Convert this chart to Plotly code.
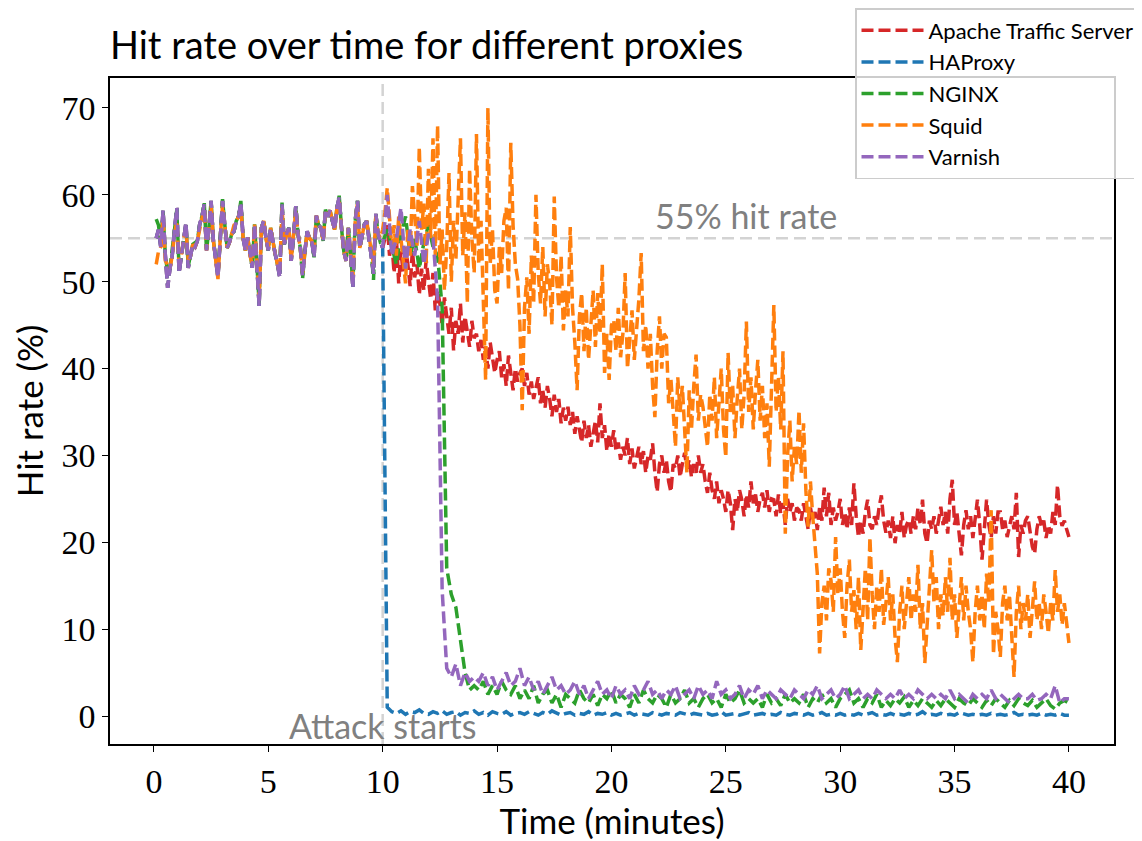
import numpy as np
import plotly.graph_objects as go

# ---------------- data ----------------
# before the attack: 0.1 .. 10.0 min (0.1 min steps)
pre_times = np.round(np.arange(1, 101) * 0.1, 1)
# after the attack: fine grid (0.1 min) for the noisy series, 0.2 min for the others
fine_times = np.round(10 + np.arange(1, 301) * 0.1, 1)
coarse_times = np.round(10 + np.arange(1, 151) * 0.2, 1)

# before the attack the proxies behave almost the same (lines overlap)
pre_attack = [
    55, 56, 54, 58.2, 53, 49.3, 51.5, 53, 56, 58.5,
    51, 53, 55, 56.8, 51.6, 53, 54.3, 54, 54.7, 56.6,
    57.5, 58.9, 53.6, 56, 59.3, 54.7, 52.5, 50.5, 55, 59.3,
    56.5, 53.9, 54.5, 55.5, 55.8, 57, 57.5, 59.1, 55, 53.6,
    55.1, 53, 51.6, 56.6, 52, 47.2, 56.2, 57, 55, 53.6,
    56.2, 54.5, 53.2, 52, 50.5, 58.9, 54.3, 55.5, 56.2, 52.4,
    55, 58.7, 55.5, 53.9, 50.7, 53.5, 55.8, 55, 54.7, 52.8,
    57.6, 56.5, 56.2, 54.7, 58.3, 57.5, 58.2, 57, 56, 58.5,
    59.7, 56.2, 53.5, 52.4, 56.2, 53, 49.3, 57, 59.3, 53.9,
    55.5, 56.6, 57, 55, 53.6, 50.9, 57.8, 55.5, 54.5, 53.9,
]
# NGINX before the attack (starts a little higher)
nginx_pre = [
    57.2, 56.5, 54.5, 58, 53, 51, 51.5, 53.5, 56, 58.3,
    51.5, 53, 55, 56.5, 51.8, 53, 54.3, 54.5, 54.7, 56.6,
    57.5, 59.1, 53.6, 56, 59.3, 54.7, 52.5, 50.8, 55, 59.5,
    56.5, 53.9, 54.5, 55.5, 55.8, 57, 57.5, 59.3, 55, 53.6,
    55.1, 53.3, 51.6, 56.6, 52, 47.5, 56.2, 57, 55, 53.6,
    56.2, 54.5, 53.2, 52, 50.8, 59.1, 54.3, 55.5, 56.2, 52.4,
    55, 58.7, 55.5, 53.9, 50.4, 53.5, 55.8, 55, 54.7, 52.8,
    57.6, 56.5, 56.2, 54.7, 58.3, 57.5, 58.2, 57, 56, 58.5,
    59.9, 56.2, 53.5, 52.4, 56.2, 53, 49.8, 57, 59.3, 53.9,
    55.5, 56.6, 57, 55, 53.6, 50.2, 57.8, 55.5, 54.5, 54.5,
]
# Squid before the attack (starts lower, shallower dips)
squid_pre = [
    52, 53.5, 54, 57.5, 52.4, 52, 51.5, 53, 55.5, 57,
    52, 53, 55, 56, 52.5, 53, 54.3, 54, 54.7, 56,
    57.5, 58.5, 53.6, 56, 58.8, 54.7, 52.5, 50.3, 55, 58.8,
    56.5, 53.9, 54.5, 55.5, 56.5, 57, 57.5, 58.5, 55, 53.6,
    55.1, 53, 52, 56.6, 52, 48, 56.2, 57, 55, 53.6,
    56.2, 54.5, 53.2, 52, 51, 58.5, 54.3, 55.5, 56.2, 52.4,
    55, 58.2, 55.5, 53.9, 51, 53.5, 55.8, 55, 54.7, 53.5,
    57.6, 56.5, 56.2, 54.7, 58, 57.5, 58.2, 57, 56, 58.5,
    59.2, 56.2, 53.5, 52.4, 56.2, 53, 50.5, 57, 59, 53.9,
    55.5, 56.6, 57, 55, 53.6, 52, 57.5, 55.5, 55, 56,
]

# Apache Traffic Server, 10.1 .. 40.0 (0.1 min)
ats_post = [
    55, 56.5, 53, 54.5, 51, 55, 49.8, 53.5, 51, 54, 52, 49.5, 53.6, 50.5, 52, 48.5, 51.5, 49, 52.5, 50,
    48, 51, 46.7, 49, 47.5, 45, 48.2, 46, 44, 47, 42.1, 45.5, 44, 47.5, 43, 46, 44.5, 42.5, 45.5, 43.5,
    44, 42, 43.3, 41, 42.5, 40, 43, 41.5, 39.5, 41, 42, 39, 40.5, 38, 41.5, 39.5, 37.5, 40, 38.5, 39.5,
    40, 38, 39.5, 37, 38.5, 36.5, 38, 39, 36, 37.5, 35.5, 38, 36.5, 34.5, 37, 35, 36.5, 33.7, 35.5, 34,
    35.6, 33.5, 35, 32.5, 34.5, 33, 31.5, 34, 32, 33.5, 31, 32.5, 34, 31.5, 36, 32, 33.5, 30.5, 32.5, 31,
    32.9, 30.5, 31.5, 29.5, 31, 30, 32, 29, 30.8, 28.5, 30, 31, 29, 30.5, 28, 30, 29.5, 31.4, 28, 25.8,
    29, 30, 28, 29.5, 27, 25.8, 29, 28.5, 30, 27.5, 29, 30.3, 28.5, 29.5, 27.5, 29, 28, 30, 28, 29,
    27, 25.7, 28, 26, 25, 27, 24.5, 26, 25, 23.5, 26, 24.5, 21.4, 25, 23.5, 26, 24.9, 23, 25.5, 24,
    27, 24.5, 25.5, 23.5, 25, 25.7, 24, 26, 23.5, 25, 24.9, 23, 25.5, 23.3, 24.5, 22, 25, 23.5, 24.5, 22.5,
    24, 23.7, 22.5, 24.5, 23, 21.5, 24, 22.5, 23.5, 21.4, 24, 22.5, 26.3, 23, 25.7, 22, 24, 22.5, 23.5, 25,
    22, 23.5, 21.5, 24, 22, 26.8, 23, 20.6, 22.5, 21, 23.5, 24.9, 22, 21.5, 23, 22, 24, 25.4, 22.5, 21.1,
    22.5, 20.5, 23, 19.9, 22, 21, 23.5, 20.5, 22, 22.6, 21, 23, 21.5, 24, 22, 24.9, 21, 19.9, 22.5, 21.5,
    23, 21, 22.5, 24.1, 22, 23.5, 21, 25, 27.2, 22, 23.5, 21, 18.5, 22, 23.7, 21.5, 23, 20.5, 22.5, 24.9,
    22, 18, 21.5, 24.9, 22, 20.5, 23, 21, 23.5, 23.5, 21.5, 22.5, 20.6, 22, 23, 21.5, 25.7, 18.3, 22, 21,
    22.5, 23, 21, 19.5, 18.7, 21.5, 23, 21.9, 22.5, 20.5, 22, 21, 23.5, 22, 26.6, 23, 21.9, 22.5, 21.5, 20.6,
]

# HAProxy, 10.2 .. 40.0 (0.2 min)
haproxy_post = [
    1.0, 0.5, 0.3, 0.6, 0.2, 0.5, 0.4, 0.7, 0.3, 0.2,
    0.5, 0.3, 0.6, 0.2, 0.4, 0.5, 0.1, 0.4, 0.3, 0.6,
    0.2, 0.4, 0.1, 0.5, 0.3, 0.2, 0.5, 0.1, 0.3, 0.4,
    0.2, 0.5, 0.3, 0.1, 0.4, 0.2, 0.6, 0.3, 0.1, 0.3,
    0.4, 0.1, 0.3, 0.2, 0.5, 0.1, 0.3, 0.2, 0.4, 0.1,
    0.3, 0.1, 0.2, 0.4, 0.1, 0.3, 0.2, 0.1, 0.4, 0.2,
    0.1, 0.3, 0.2, 0.1, 0.4, 0.2, 0.1, 0.3, 0.2, 0.1,
    0.3, 0.1, 0.2, 0.5, 0.1, 0.2, 0.3, 0.1, 0.2, 0.4,
    0.1, 0.2, 0.3, 0.1, 0.2, 0.1, 0.4, 0.2, 0.1, 0.3,
    0.2, 0.1, 0.3, 0.1, 0.2, 0.4, 0.1, 0.2, 0.1, 0.3,
    0.1, 0.2, 0.1, 0.3, 0.1, 0.2, 0.4, 0.1, 0.2, 0.1,
    0.3, 0.1, 0.2, 0.1, 0.3, 0.1, 0.2, 0.5, 0.1, 0.2,
    0.1, 0.3, 0.1, 0.2, 0.1, 0.4, 0.2, 0.1, 0.2, 0.1,
    0.2, 0.1, 0.3, 0.1, 0.2, 0.1, 0.2, 0.4, 0.1, 0.2,
    0.1, 0.2, 0.1, 0.3, 0.1, 0.2, 0.1, 0.3, 0.1, 0.1,
]

# NGINX, 10.2 .. 40.0 (0.2 min)
nginx_post = [
    56, 54, 52, 55.5, 57.5, 53, 55, 51.5, 54.5, 56.5,
    54, 53, 47, 17, 14, 12.5, 9, 5, 3, 3.5,
    3, 4, 2.5, 3.5, 2.5, 4, 3, 2.5, 3.5, 2,
    3, 2, 3.5, 1.5, 2.5, 3, 1.5, 2.5, 1, 2.5,
    2, 1.5, 3, 2, 1.5, 2.5, 1.2, 2.5, 2, 3,
    1.5, 2.5, 2, 1, 2.5, 1.5, 3, 2, 1.5, 2.5,
    2, 1, 2.5, 1.5, 2, 3, 1.5, 2, 1, 2,
    2.5, 1.5, 2, 1, 2.5, 1.5, 2, 3, 1.5, 2,
    1.5, 2, 1, 2.5, 1.5, 2, 1.2, 2.5, 1.5, 2,
    1.5, 2.5, 1, 2, 1.5, 2.5, 1.5, 2, 1, 2,
    2.5, 3, 1.5, 2, 1, 2, 1.5, 2.5, 1, 1.8,
    1.2, 2, 1.5, 2.2, 1, 1.8, 1.2, 2, 1.5, 1,
    1.8, 1.2, 2, 1.5, 1, 2, 1.5, 1.2, 2, 1.5,
    1, 1.8, 1.2, 2, 1.5, 1, 1.8, 1.2, 2, 1.5,
    1.2, 1.8, 1, 1.5, 2, 1.2, 0.8, 1.5, 1.8, 1.5,
]

# Squid, 10.1 .. 40.0 (0.1 min)
squid_post = [
    58, 60.8, 57, 54, 56.5, 53, 57.5, 55, 52.5, 49.8, 56, 53, 61, 57, 54, 65.5, 56, 59, 52, 63,
    55, 66.5, 53, 68, 52, 56, 49, 54, 62.5, 50, 57, 52.5, 59, 66.5, 53, 58, 47.5, 63, 55, 51,
    67, 52, 57, 47, 38.7, 70, 52, 56, 49, 47.5, 54, 51, 57, 58.5, 49, 66, 56.5, 52, 50.3, 45,
    35.2, 47, 50.5, 44, 53, 47.5, 60, 51, 47.5, 54, 46, 52, 49.8, 45, 59.8, 50.5, 47, 53, 44.4, 49,
    46, 56.3, 47, 43, 37.5, 46, 48.7, 42, 47, 41, 45, 49, 42.5, 48.7, 44, 52, 39.5, 44, 38.7, 45,
    45.6, 42, 47, 41.3, 44, 51, 40, 43, 46.7, 41, 44.5, 48, 53.3, 42, 45, 40, 44, 38, 34.4, 42,
    46, 40, 44, 43.6, 36, 38.8, 35, 31, 39, 35, 38, 33, 28, 37.5, 33, 38, 41.6, 34, 37, 35.6,
    33, 31, 37, 34, 39, 32, 36, 40, 33, 29.8, 41.8, 35, 38, 32, 36.5, 40, 33, 37, 45.4, 35,
    39, 33, 37.5, 41, 34, 38, 32, 36, 28.7, 38, 47.3, 35, 39, 33, 42, 21, 30, 34, 27, 31,
    29, 35.2, 28, 33.7, 26, 21.8, 27, 23, 19, 16.4, 7.2, 13, 15, 11, 17, 15.6, 12, 20.6, 14, 17,
    12, 9, 15, 18, 12, 14.5, 10, 16, 7.6, 13, 17, 11, 20.6, 14, 10, 15, 12, 17, 10.5, 13,
    16, 11, 14, 9, 6.2, 12, 15, 10, 13.5, 16, 11, 14, 12, 17.4, 10, 13, 6.1, 11, 15, 19.1,
    13, 16, 10, 14, 11.5, 16, 12, 18.2, 11, 14, 9, 13, 16, 11, 15, 12, 10, 6.2, 12, 15,
    11, 14, 10, 16.4, 13, 23.7, 7.1, 12, 10, 6.8, 13, 15, 11, 14, 9, 4.5, 12, 15, 10, 13,
    11, 14, 9, 12, 15.5, 11, 13, 10, 14, 12, 9.5, 13, 11, 16.8, 12, 14, 10.5, 13, 11, 8.4,
]

# Varnish, 10.2 .. 40.0 (0.2 min)
varnish_post = [
    60, 53, 55, 58.5, 51.5, 56, 53, 57, 52, 55.5,
    55, 48, 14.5, 5.5, 4.5, 6, 3.5, 5, 4, 4.5,
    4, 5, 3.5, 4.5, 3, 4, 5, 3.5, 4, 5.5,
    3.5, 4.5, 3, 4, 2.5, 3.5, 4.5, 3, 3.5, 2.5,
    3, 4, 2.5, 3.5, 2, 3, 4, 2.5, 3, 2,
    3.5, 2.5, 3, 2, 3.5, 2.5, 3, 4, 2.5, 3,
    2, 3, 2.5, 3.5, 2, 2.5, 3, 2, 3.5, 2.5,
    3, 2, 4, 2.5, 3, 2, 2.5, 3.5, 2, 3,
    2.5, 3.5, 2, 3, 2.5, 2, 3, 2.5, 2, 3,
    2.5, 2, 3, 2.5, 3.5, 2, 2.5, 3, 2, 2.5,
    3.5, 2, 2.5, 3, 2, 2.5, 2, 3, 2.5, 2,
    2.5, 2, 3, 2, 2.5, 2, 3, 2.5, 2, 2.5,
    2, 2.5, 2, 3, 2, 2.5, 2, 1.5, 2.5, 2,
    2.5, 2, 3, 2, 2.5, 2, 1.5, 2, 2.5, 2,
    2, 2.5, 1.8, 2, 2.5, 2, 3.5, 1.5, 2, 2,
]

series_names = ["Apache Traffic Server", "HAProxy", "NGINX", "Squid", "Varnish"]
series_pre = [pre_attack, pre_attack, nginx_pre, squid_pre, pre_attack]
series_post = [ats_post, haproxy_post, nginx_post, squid_post, varnish_post]
series_post_times = [fine_times, coarse_times, coarse_times, fine_times, coarse_times]
series_colors = ["#d62728", "#1f77b4", "#2ca02c", "#ff7f0e", "#9467bd"]

reference_rate = 55
attack_time = 10
x_ticks = [0, 5, 10, 15, 20, 25, 30, 35, 40]
y_ticks = [0, 10, 20, 30, 40, 50, 60, 70]

# ---------------- figure ----------------
SANS = "Lato, 'DejaVu Sans', sans-serif"
SERIF = "'Liberation Serif', 'DejaVu Serif', serif"
OFF = 8                      # page body margin added by the html page
W, H = 1142 - OFF, 841 - OFF
ml, mt = 110 - OFF, 78 - OFF
mr = W - (1114 - OFF)
mb = H - (744 - OFF)

fig = go.Figure()
for name, pre, post, ptimes, color in zip(series_names, series_pre, series_post,
                                          series_post_times, series_colors):
    fig.add_trace(go.Scatter(
        x=np.concatenate([pre_times, ptimes]), y=pre + post,
        mode="lines", name=name,
        line=dict(color=color, width=3.5, dash="12px,5px"),
    ))

# reference lines
fig.add_hline(y=reference_rate, line=dict(color="#d3d3d3", width=2.5, dash="12px,6px"), layer="below")
fig.add_vline(x=attack_time, line=dict(color="#d3d3d3", width=2.5, dash="12px,6px"), layer="below")

fig.add_annotation(x=25.9, y=57.6, text="55% hit rate", showarrow=False,
                   font=dict(family=SANS, size=34, color="#808080"),
                   xanchor="center", yanchor="middle")
fig.add_annotation(x=10.0, y=-1.1, text="Attack starts", showarrow=False,
                   font=dict(family=SANS, size=34, color="#808080"),
                   xanchor="center", yanchor="middle")

fig.update_layout(
    width=W, height=H,
    margin=dict(l=ml, r=mr, t=mt, b=mb, autoexpand=False),
    paper_bgcolor="white", plot_bgcolor="white",
    title=dict(text="Hit rate over time for different proxies",
               font=dict(family=SANS, size=38, color="black"),
               xref="paper", x=0, xanchor="left",
               yref="container", y=1 - (46 - OFF) / H, yanchor="middle"),
    legend=dict(
        xref="container", x=(1140 - OFF) / W, xanchor="right",
        yref="container", y=1.0, yanchor="top",
        bgcolor="rgba(255,255,255,0.8)", bordercolor="#cccccc", borderwidth=1.5,
        font=dict(family=SANS, size=22, color="black"),
        tracegroupgap=0, itemwidth=62,
    ),
    showlegend=True,
)

fig.update_xaxes(
    range=[-1.92, 41.97], tickvals=x_ticks, ticktext=[str(v) for v in x_ticks],
    showgrid=False, zeroline=False, automargin=False,
    showline=True, linecolor="black", linewidth=1.5, mirror=True,
    ticks="outside", ticklen=6, tickwidth=1.3, tickcolor="black",
    tickfont=dict(family=SERIF, size=34, color="black"),
    title=dict(text="Time (minutes)", font=dict(family=SANS, size=35, color="black"), standoff=3),
)
fig.update_yaxes(
    range=[-3.22, 73.45], tickvals=y_ticks, ticktext=[str(v) for v in y_ticks],
    showgrid=False, zeroline=False, automargin=False,
    showline=True, linecolor="black", linewidth=1.5, mirror=True,
    ticks="outside", ticklen=6, tickwidth=1.3, tickcolor="black",
    tickfont=dict(family=SERIF, size=34, color="black"),
    title=dict(text="Hit rate (%)", font=dict(family=SANS, size=35, color="black"), standoff=10),
)

fig.write_html("out.html")
